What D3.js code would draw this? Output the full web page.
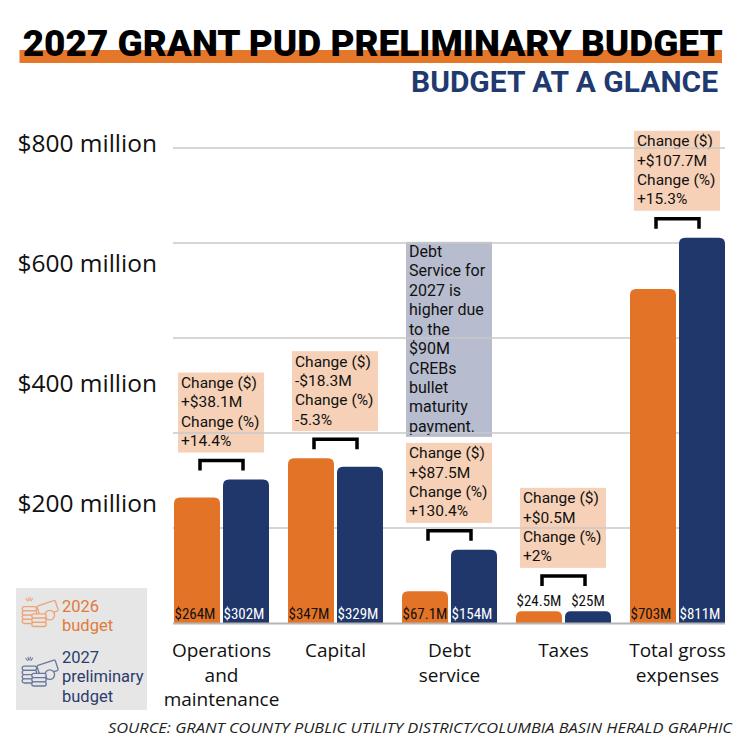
<!DOCTYPE html>
<html>
<head>
<meta charset="utf-8">
<script src="https://cdn.jsdelivr.net/npm/d3@7"></script>
<style>
  body { margin: 0; background: #fff; }
  svg { display: block; font-family: "Open Sans", "Noto Sans", sans-serif; }
</style>
</head>
<body>
<svg id="chart" width="742" height="750"></svg>
<script>
// chart data
var categories = ["Operations and maintenance", "Capital", "Debt service", "Taxes", "Total gross expenses"];
var categoryLines = [["Operations", "and", "maintenance"], ["Capital"], ["Debt", "service"], ["Taxes"], ["Total gross", "expenses"]];
var series = ["2026 budget", "2027 preliminary budget"];
var legendLines = [["2026", "budget"], ["2027", "preliminary", "budget"]];
var budget2026 = [264, 347, 67.1, 24.5, 703];
var budget2027 = [302, 329, 154, 25, 811];
var labels2026 = ["$264M", "$347M", "$67.1M", "$24.5M", "$703M"];
var labels2027 = ["$302M", "$329M", "$154M", "$25M", "$811M"];
var changeDollar = ["+$38.1M", "-$18.3M", "+$87.5M", "+$0.5M", "+$107.7M"];
var changePct = ["+14.4%", "-5.3%", "+130.4%", "+2%", "+15.3%"];
var gridTicks = [200, 400, 600, 800, 1000];
var axisTicks = [200, 400, 600, 800];
var axisTickLabels = ["$200 million", "$400 million", "$600 million", "$800 million"];
var debtNote = ["Debt", "Service for", "2027 is", "higher due", "to the", "$90M", "CREBs", "bullet", "maturity", "payment."];

var orange = "#e37427", navy = "#1f376b";
var seriesColor = [orange, navy];
var boxFont = "Roboto, 'Liberation Sans', sans-serif";

var svg = d3.select("#chart");

// Title with orange underline bar
svg.append("rect").attr("x", 19.5).attr("y", 50).attr("width", 702.5).attr("height", 13).attr("fill", "#e5772b");
svg.append("text")
    .attr("x", 22.7).attr("y", 55.5)
    .attr("font-family", "Roboto, 'Liberation Sans', sans-serif")
    .attr("font-weight", 900)
    .attr("font-size", "37px")
    .attr("textLength", 700).attr("lengthAdjust", "spacingAndGlyphs")
    .attr("fill", "#000")
    .text("2027 GRANT PUD PRELIMINARY BUDGET");
svg.append("text")
    .attr("x", 718).attr("y", 92)
    .attr("text-anchor", "end")
    .attr("font-family", "Roboto, 'Liberation Sans', sans-serif")
    .attr("font-weight", 700)
    .attr("font-size", "30px")
    .attr("textLength", 307).attr("lengthAdjust", "spacingAndGlyphs")
    .attr("fill", "#1f3a6e")
    .text("BUDGET AT A GLANCE");

// scales
var y = d3.scaleLinear().domain([0, 1000]).range([623, 148]);
// the printed axis labels sit on their own spacing, not on the gridlines
var yLabel = d3.scaleLinear().domain([0, 800]).range([623, 144]);
var x0 = d3.scaleBand().domain(categories).range([174, 725]).paddingInner(19 / 114).paddingOuter(0);
var x1 = d3.scaleBand().domain(series).range([0, x0.bandwidth()]).paddingInner(3 / 49);

var rows = categories.map(function(c, i) {
    return {
        cat: c, i: i,
        values: [
            {s: series[0], k: 0, v: budget2026[i], label: labels2026[i]},
            {s: series[1], k: 1, v: budget2027[i], label: labels2027[i]}
        ]
    };
});

// work out bracket / box positions from the bars
var labelFont = 15;
rows.forEach(function(r) {
    var tops = r.values.map(function(d) {
        var h = y(0) - y(d.v);
        d.inside = h > 22;
        return d.inside ? y(d.v) : y(d.v) - 5 - labelFont * 0.75;
    });
    r.legEnd = d3.min(tops) - 9;
    r.bracketTop = r.legEnd - 10;
    r.boxBottom = r.bracketTop - 8;
    r.boxTop = r.boxBottom - 80;
    r.boxX = x0(r.cat) + 4;
});

// change boxes
var boxes = svg.append("g").selectAll("g").data(rows).enter().append("g");
boxes.append("rect")
    .attr("x", function(d) { return d.boxX; })
    .attr("y", function(d) { return d.boxTop; })
    .attr("width", 86).attr("height", 80)
    .attr("fill", "#f6d1b7");
boxes.selectAll("text")
    .data(function(d) { return [["Change ($)", d], [changeDollar[d.i], d], ["Change (%)", d], [changePct[d.i], d]]; })
    .enter().append("text")
    .attr("x", function(t) { return t[1].boxX + 3; })
    .attr("y", function(t, j) { return t[1].boxTop + 15.5 + j * 19.3; })
    .attr("font-family", boxFont)
    .attr("font-size", "15.5px")
    .attr("fill", "#111")
    .text(function(t) { return t[0]; });

// grey note above the debt service box
var debtRow = rows[2];
var noteBottom = debtRow.boxTop - 6, noteTop = noteBottom - 195;
svg.append("rect")
    .attr("x", debtRow.boxX).attr("y", noteTop)
    .attr("width", 86).attr("height", 195)
    .attr("fill", "#b7bdcf");
svg.append("g").selectAll("text").data(debtNote).enter().append("text")
    .attr("x", debtRow.boxX + 3)
    .attr("y", function(d, j) { return noteTop + 15 + j * 19.45; })
    .attr("font-family", boxFont)
    .attr("font-size", "16px")
    .attr("fill", "#111")
    .text(function(d) { return d; });

// gridlines
svg.append("g").selectAll("line").data(gridTicks).enter().append("line")
    .attr("x1", 173).attr("x2", 725)
    .attr("y1", function(d) { return y(d); })
    .attr("y2", function(d) { return y(d); })
    .attr("stroke", "#c8c8c8").attr("stroke-width", 1.5);

// y axis labels
var yAxis = svg.append("g")
    .attr("transform", "translate(157,0)")
    .call(d3.axisLeft(yLabel).tickValues(axisTicks)
        .tickFormat(function(d, i) { return axisTickLabels[i]; })
        .tickSize(0).tickPadding(0));
yAxis.select(".domain").remove();
yAxis.selectAll("text")
    .attr("font-family", "'Open Sans', 'Noto Sans', sans-serif")
    .attr("font-size", "24.5px")
    .attr("fill", "#111");

// bars
function topRounded(x, yy, w, h, r) {
    r = Math.min(r, h / 2, w / 2);
    return "M" + x + "," + (yy + h) + "V" + (yy + r) + "Q" + x + "," + yy + " " + (x + r) + "," + yy +
        "H" + (x + w - r) + "Q" + (x + w) + "," + yy + " " + (x + w) + "," + (yy + r) + "V" + (yy + h) + "Z";
}
var groups = svg.append("g").selectAll("g").data(rows).enter().append("g")
    .attr("transform", function(d) { return "translate(" + x0(d.cat) + ",0)"; });
groups.selectAll("path").data(function(d) { return d.values; }).enter().append("path")
    .attr("d", function(d) { return topRounded(x1(d.s), y(d.v), x1.bandwidth(), y(0) - y(d.v), 6); })
    .attr("fill", function(d) { return seriesColor[d.k]; });

// baseline
svg.append("line").attr("x1", 173).attr("x2", 725).attr("y1", y(0) + 0.5).attr("y2", y(0) + 0.5)
    .attr("stroke", "#b5b5b5").attr("stroke-width", 2);

// value labels
groups.selectAll("text").data(function(d) { return d.values; }).enter().append("text")
    .attr("x", function(d) { return d.inside ? x1(d.s) + 0.5 : x1(d.s) + x1.bandwidth() / 2; })
    .attr("y", function(d) { return d.inside ? y(0) - 4 : y(d.v) - 5; })
    .attr("text-anchor", function(d) { return d.inside ? "start" : "middle"; })
    .attr("font-family", "'Liberation Sans Narrow', 'Roboto Condensed', 'DejaVu Sans Condensed', 'Roboto', sans-serif")
    .attr("font-stretch", "condensed")
    .attr("font-size", labelFont + "px")
    .attr("fill", function(d) { return d.inside && d.k === 1 ? "#fff" : "#111"; })
    .text(function(d) { return d.label; });

// brackets
svg.append("g").selectAll("path").data(rows).enter().append("path")
    .attr("d", function(d) {
        var cx = x0(d.cat) + x0.bandwidth() / 2;
        return "M" + (cx - 21.5) + "," + d.legEnd + "V" + d.bracketTop + "H" + (cx + 21.5) + "V" + d.legEnd;
    })
    .attr("fill", "none").attr("stroke", "#000").attr("stroke-width", 3.5);

// category labels
var cats = svg.append("g").selectAll("text").data(rows).enter().append("text")
    .attr("text-anchor", "middle")
    .attr("font-size", "19px")
    .attr("fill", "#111");
cats.selectAll("tspan").data(function(d) { return categoryLines[d.i].map(function(l) { return [l, d]; }); })
    .enter().append("tspan")
    .attr("x", function(t) { return x0(t[1].cat) + x0.bandwidth() / 2; })
    .attr("y", function(t, j) { return 657 + j * 24.5; })
    .text(function(t) { return t[0]; });

// legend
var legend = svg.append("g");
legend.append("rect").attr("x", 16).attr("y", 588).attr("width", 131).attr("height", 122).attr("fill", "#e6e6e6");
var legendText = ["#e07b39", "#2c3c6c"];
var iconStroke = ["#eda577", "#6a789e"];
var legendTop = [611.5, 663];
series.forEach(function(s, k) {
    legendLines[k].forEach(function(l, j) {
        legend.append("text")
            .attr("x", 62).attr("y", legendTop[k] + j * 19.3)
            .attr("font-family", boxFont)
            .attr("font-size", "16.5px")
            .attr("fill", legendText[k])
            .text(l);
    });
    // small coins-and-cash icon
    var ic = legend.append("g")
        .attr("transform", "translate(21," + (legendTop[k] - 12 + (k ? 8 : 0)) + ") scale(1.2)")
        .attr("fill", "#e6e6e6").attr("stroke", iconStroke[k]).attr("stroke-width", 1.1);
    ic.append("rect").attr("x", 14).attr("y", 3).attr("width", 16).attr("height", 9).attr("rx", 1)
        .attr("transform", "rotate(-18,22,7)");
    ic.append("circle").attr("cx", 24).attr("cy", 13).attr("r", 4);
    [0, 1, 2, 3].forEach(function(n) {
        ic.append("rect").attr("x", 1).attr("y", 6 + n * 3.5).attr("width", 12).attr("height", 3.5).attr("rx", 1.7);
    });
    [0, 1, 2].forEach(function(n) {
        ic.append("rect").attr("x", 9).attr("y", 12 + n * 3.5).attr("width", 12).attr("height", 3.5).attr("rx", 1.7);
    });
    [-40, -15, 10, 35].forEach(function(a) {
        var r = a * Math.PI / 180;
        ic.append("line")
            .attr("x1", 7 + Math.sin(r) * 2).attr("y1", 3 - Math.cos(r) * 2)
            .attr("x2", 7 + Math.sin(r) * 5).attr("y2", 3 - Math.cos(r) * 5)
            .attr("stroke-width", 0.9);
    });
});

// source line
svg.append("text")
    .attr("x", 108).attr("y", 733)
    .attr("font-style", "italic")
    .attr("font-size", "15px")
    .attr("textLength", 624).attr("lengthAdjust", "spacingAndGlyphs")
    .attr("fill", "#222")
    .text("SOURCE: GRANT COUNTY PUBLIC UTILITY DISTRICT/COLUMBIA BASIN HERALD GRAPHIC");
</script>
</body>
</html>
